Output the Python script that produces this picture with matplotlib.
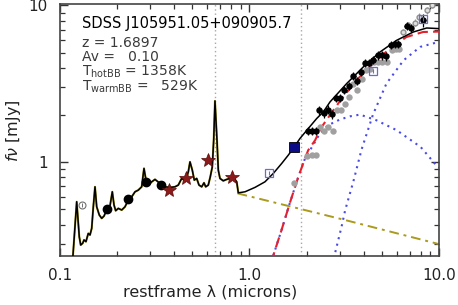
import matplotlib
matplotlib.use("Agg")
import matplotlib.pyplot as plt
import numpy as np
from matplotlib.ticker import FixedLocator, FixedFormatter, LogLocator, NullFormatter

# rest-frame wavelength (microns) and flux density (mJy)
spec_wave = [0.1167, 0.1225, 0.1264, 0.1286, 0.1318, 0.1339, 0.1371, 0.1410, 0.1440, 0.1470,
             0.1499, 0.1530, 0.1562, 0.1612, 0.1660, 0.1707, 0.1764, 0.1821, 0.1851, 0.1888,
             0.1928, 0.1967, 0.2031, 0.2117, 0.2203, 0.2293, 0.2390, 0.2488, 0.2589, 0.2698,
             0.2775, 0.2843, 0.2924, 0.3047, 0.3172, 0.3370, 0.3581, 0.3805, 0.4045, 0.4210,
             0.4387, 0.4528, 0.4662, 0.4753, 0.4853, 0.4991, 0.5113, 0.5265, 0.5414, 0.5595,
             0.5753, 0.5873, 0.6061, 0.6209, 0.6363, 0.6472, 0.6574, 0.6737, 0.6845, 0.6987,
             0.7272, 0.7580, 0.7890, 0.8212, 0.8562, 0.8729]
spec_flux = [0.24, 0.559, 0.334, 0.296, 0.304, 0.319, 0.311, 0.351, 0.343, 0.378,
             0.519, 0.696, 0.519, 0.460, 0.438, 0.453, 0.495, 0.495, 0.559, 0.647,
             0.532, 0.490, 0.507, 0.495, 0.519, 0.573, 0.601, 0.647, 0.663, 0.696,
             0.912, 0.768, 0.714, 0.749, 0.776, 0.732, 0.696, 0.690, 0.696, 0.714,
             0.787, 0.768, 0.799, 0.867, 1.004, 0.889, 0.768, 0.787, 0.714, 0.696,
             0.738, 0.696, 0.714, 0.806, 0.933, 1.381, 2.457, 1.381, 0.889, 0.787,
             0.760, 0.776, 0.787, 0.799, 0.749, 0.637]

model_wave = [0.947, 1.069, 1.207, 1.335, 1.479, 1.602, 1.724, 1.847, 2.043, 2.263,
              2.452, 2.660, 3.258, 3.986, 4.884, 5.980, 7.317, 8.613, 10.0]
model_flux = [0.647, 0.690, 0.749, 0.847, 0.981, 1.108, 1.252, 1.416, 1.639, 1.898,
              2.091, 2.421, 3.171, 4.046, 5.041, 5.985, 6.761, 7.170, 7.107]

pl_wave = [0.865, 3.13, 10.0]
pl_flux = [0.632, 0.43, 0.30]

hot_wave = [1.30, 1.33, 1.476, 1.63, 1.81, 1.96, 2.22, 2.35, 2.6, 3.0, 3.4, 3.83, 4.67, 5.97, 8.0, 9.5, 10.0]
hot_flux = [0.23, 0.25, 0.369, 0.545, 0.806, 1.05, 1.35, 1.52, 1.72, 1.87, 1.96, 2.01, 1.85, 1.60, 1.25, 0.98, 0.92]

warm_wave = [2.75, 2.8, 3.06, 3.2, 3.53, 3.9, 4.49, 5.28, 6.5, 7.95, 9.9, 10.0]
warm_flux = [0.22, 0.25, 0.387, 0.495, 0.75, 1.2, 2.02, 3.17, 4.46, 5.43, 5.83, 5.84]

bb_wave = [1.30, 1.33, 1.476, 1.63, 1.81, 1.96, 2.04, 2.22, 2.39, 2.7, 3.0, 3.67, 4.49, 5.5, 6.73, 8.24, 9.9, 10.0]
bb_flux = [0.23, 0.25, 0.369, 0.545, 0.806, 1.05, 1.19, 1.38, 1.66, 2.05, 2.45, 3.33, 4.25, 5.3, 6.28, 6.76, 6.8, 6.8]

sdss_wave = [0.1764, 0.2293, 0.2833, 0.340]
sdss_flux = [0.502, 0.581, 0.749, 0.717]

nir_wave = [0.3774, 0.4638, 0.606, 0.806]
nir_flux = [0.666, 0.787, 1.03, 0.799]

galex_wave = [0.130]
galex_flux = [0.532]

irs_wave = [2.028, 2.129, 2.243, 2.335, 2.473, 2.587, 2.726, 2.861, 3.004, 3.165,
            3.351, 3.531, 3.680, 3.877, 4.07, 4.29, 4.50, 4.75, 4.99, 5.25,
            5.58, 5.86, 6.10, 6.76, 7.12, 8.26]
irs_flux = [1.576, 1.576, 1.576, 2.144, 2.043, 2.166, 2.022, 2.583, 2.583, 2.874,
            3.049, 3.53, 3.295, 3.759, 4.291, 4.291, 4.51, 4.80, 4.80, 4.73,
            5.62, 5.70, 5.70, 7.38, 7.21, 8.03]
irs_err = [0.06, 0.06, 0.06, 0.07, 0.07, 0.07, 0.07, 0.06, 0.06, 0.06,
           0.06, 0.06, 0.06, 0.06, 0.06, 0.06, 0.06, 0.06, 0.06, 0.06,
           0.06, 0.06, 0.06, 0.06, 0.06, 0.10]

raw_wave = [1.724, 2.018, 2.129, 2.243, 2.355, 2.481, 2.605, 2.748, 2.885, 3.04,
            3.19, 3.351, 3.531, 3.707, 3.91, 4.10, 4.32, 4.56, 4.78, 5.02,
            5.30, 5.63, 5.91, 6.15]
raw_flux = [0.738, 1.092, 1.108, 1.108, 1.678, 1.583, 1.678, 1.576, 2.144, 2.144,
            2.365, 2.606, 3.17, 2.874, 3.41, 3.855, 3.95, 4.35, 4.35, 4.35,
            4.35, 5.17, 5.30, 5.30]

raw_hi_wave = [6.48, 6.89, 7.47, 7.84, 8.64, 9.13]
raw_hi_flux = [6.76, 7.46, 7.76, 8.47, 9.29, 10.1]

wise_wave = [1.267, 4.50, 8.26]
wise_flux = [0.855, 3.815, 8.23]

jhk_wave = [1.724]
jhk_flux = [1.252]

line_waves = [0.6563, 1.875]

fig = plt.figure(figsize=(4.58, 3.05), dpi=100)
ax = fig.add_axes([0.131, 0.1607, 0.8275, 0.8262])
ax.set_xscale("log")
ax.set_yscale("log")
ax.set_xlim(0.1, 10.0)
ax.set_ylim(0.252, 10.2)

for w in line_waves:
    ax.axvline(w, color="#a8a8a8", lw=1.0, ls=(0, (1, 2)), zorder=1)

olive = "#aa9a1e"
ax.plot(spec_wave, spec_flux, color=olive, lw=1.5, zorder=2)
ax.plot(pl_wave, pl_flux, color=olive, lw=1.4, ls=(0, (5, 2.5, 1.5, 2.5)), zorder=2)
ax.plot(hot_wave, hot_flux, color="#4a4ae6", lw=1.5, ls=(0, (1, 2.2)), zorder=2)
ax.plot(warm_wave, warm_flux, color="#4a4ae6", lw=1.5, ls=(0, (1, 2.2)), zorder=2)
ax.plot(bb_wave, bb_flux, color="#e8202a", lw=1.5, ls=(0, (5, 2.5)), zorder=3)
ax.plot(spec_wave + model_wave, spec_flux + model_flux, color="black", lw=1.1, zorder=4)

ax.plot(raw_wave, raw_flux, "o", color="#a0a0a0", ms=4.6, mec="none", zorder=5)
hi = np.array(raw_hi_flux)
ax.errorbar(raw_hi_wave, raw_hi_flux, yerr=hi * 0.05, fmt="o", ms=3.5, mfc="#e0e0e0",
            mec="#909090", ecolor="#909090", elinewidth=0.8, capsize=0, zorder=5)

irs_f = np.array(irs_flux)
irs_w = np.array(irs_wave)
ax.errorbar(irs_wave, irs_flux, yerr=irs_f * np.array(irs_err), xerr=irs_w * 0.03,
            fmt="o", ms=3.6, color="black", elinewidth=0.9, capsize=0, zorder=6)

ax.plot(sdss_wave, sdss_flux, "o", color="black", ms=6, zorder=6)
ax.plot(nir_wave, nir_flux, "*", color="#8b1a1a", mec="#5a0a0a", ms=10.5, mew=0.5, zorder=6)
ax.plot(galex_wave, galex_flux, "o", mfc="white", mec="#707070", ms=5, mew=0.8, zorder=6)
ax.plot(galex_wave, galex_flux, "|", color="#707070", ms=2.5, mew=0.7, zorder=7)
ax.plot(wise_wave, wise_flux, "s", mfc="none", mec="#6a6ad4", ms=5.5, mew=0.9, zorder=7)
ax.plot(wise_wave, wise_flux, "|", color="#6a6ad4", ms=2.5, mew=0.8, zorder=7)
ax.plot(jhk_wave, jhk_flux, "s", color="#0c0c86", mec="black", ms=6.5, mew=0.6, zorder=7)

ax.xaxis.set_major_locator(FixedLocator([0.1, 1.0, 10.0]))
ax.xaxis.set_major_formatter(FixedFormatter(["0.1", "1.0", "10.0"]))
ax.xaxis.set_minor_locator(LogLocator(base=10, subs=np.arange(2, 10)))
ax.xaxis.set_minor_formatter(NullFormatter())
ax.yaxis.set_major_locator(FixedLocator([1.0, 10.0]))
ax.yaxis.set_major_formatter(FixedFormatter(["1", "10"]))
ax.yaxis.set_minor_locator(LogLocator(base=10, subs=np.arange(2, 10)))
ax.yaxis.set_minor_formatter(NullFormatter())
ax.tick_params(which="both", direction="in", top=True, right=True, colors="#333333",
               labelcolor="#222222", labelsize=11)
ax.tick_params(which="major", length=6, width=1.0, pad=9)
ax.tick_params(which="minor", length=3.5, width=0.9)
for s in ax.spines.values():
    s.set_color("#444444")
    s.set_linewidth(1.2)

fig.text(0.4585, 0.043, "restframe λ (microns)", ha="center", va="center",
         fontsize=11.5, color="#222222")
fig.text(0.03, 0.57, r"$f\nu$ [mJy]", rotation=90, ha="center", va="center",
         fontsize=11.5, color="#222222")

tx = 0.058
ax.text(tx, 0.905, "SDSS J105951.05+090905.7", transform=ax.transAxes,
        fontsize=10.5, color="black", va="baseline")
info = ["z = 1.6897", "Av =   0.10",
        r"T$_{\mathrm{hotBB}}$ = 1358K", r"T$_{\mathrm{warmBB}}$ =   529K"]
for s, yy in zip(info, [0.830, 0.772, 0.714, 0.655]):
    ax.text(tx, yy, s, transform=ax.transAxes, fontsize=10, color="#3a3a3a",
            va="baseline")

fig.savefig("out.png", dpi=100)
